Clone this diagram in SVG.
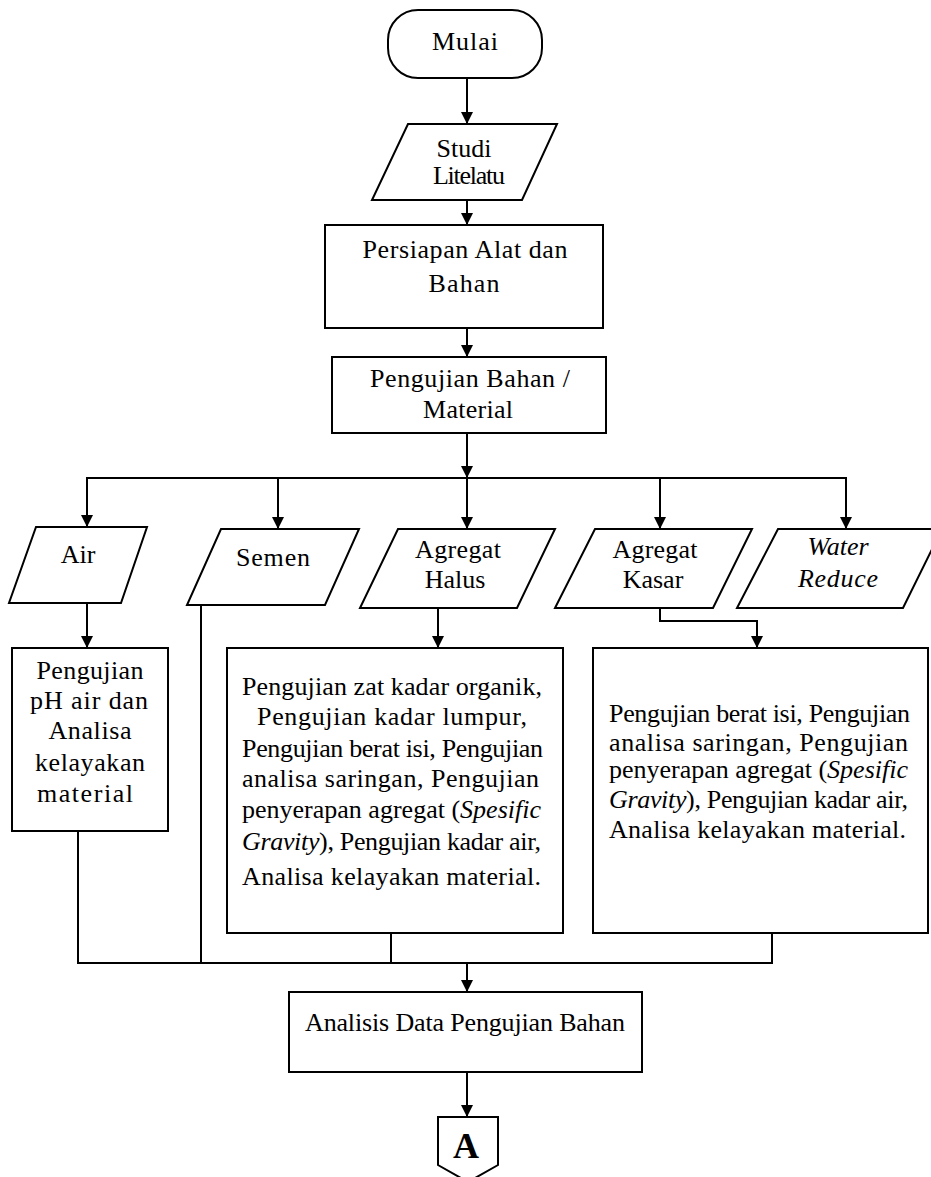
<svg xmlns="http://www.w3.org/2000/svg" width="931" height="1177" viewBox="0 0 931 1177">
<style>
.s{fill:#fff;stroke:#000;stroke-width:2}
.c{fill:none;stroke:#000;stroke-width:2}
text{font-family:"Liberation Serif","Times New Roman",serif;font-size:26px;fill:#000}
.m{text-anchor:middle}
.i{font-style:italic}
</style>
<defs>
<marker id="ah" markerUnits="userSpaceOnUse" markerWidth="12" markerHeight="12" refX="11" refY="5.5" orient="auto" viewBox="0 0 11 11">
<path d="M0,0 L11,5.5 L0,11 z" fill="#000"/>
</marker>
</defs>
<rect width="931" height="1177" fill="#fff"/>

<g id="connectors">
<line class="c" x1="467" y1="78" x2="467" y2="124" marker-end="url(#ah)"/>
<line class="c" x1="467" y1="200" x2="467" y2="225" marker-end="url(#ah)"/>
<line class="c" x1="467" y1="328" x2="467" y2="357" marker-end="url(#ah)"/>
<line class="c" x1="467" y1="433" x2="467" y2="478" marker-end="url(#ah)"/>
<line class="c" x1="86" y1="478" x2="847" y2="478"/>
<line class="c" x1="87" y1="478" x2="87" y2="527" marker-end="url(#ah)"/>
<line class="c" x1="278" y1="478" x2="278" y2="529" marker-end="url(#ah)"/>
<line class="c" x1="467" y1="478" x2="467" y2="529" marker-end="url(#ah)"/>
<line class="c" x1="660" y1="478" x2="660" y2="529" marker-end="url(#ah)"/>
<line class="c" x1="846" y1="478" x2="846" y2="529" marker-end="url(#ah)"/>
<line class="c" x1="87" y1="603" x2="87" y2="648" marker-end="url(#ah)"/>
<line class="c" x1="438" y1="608" x2="438" y2="648" marker-end="url(#ah)"/>
<polyline class="c" points="660,608 660,621 757,621 757,648" marker-end="url(#ah)"/>
<line class="c" x1="78" y1="831" x2="78" y2="963"/>
<line class="c" x1="201" y1="606" x2="201" y2="963"/>
<line class="c" x1="391" y1="933" x2="391" y2="963"/>
<polyline class="c" points="772,933 772,963 77,963"/>
<line class="c" x1="467" y1="963" x2="467" y2="992" marker-end="url(#ah)"/>
<line class="c" x1="467" y1="1072" x2="467" y2="1117" marker-end="url(#ah)"/>
</g>

<g id="mulai">
<rect class="s" x="388" y="10" width="154" height="68" rx="30"/>
<text class="m" x="465" y="50" textLength="66">Mulai</text>
</g>

<g id="studi">
<polygon class="s" points="408,124 557,124 522,200 372,200"/>
<text class="m" x="464" y="157">Studi</text>
<text class="m" x="469" y="184" textLength="72">Litelatu</text>
</g>

<g id="persiapan">
<rect class="s" x="325" y="225" width="278" height="103"/>
<text class="m" x="465" y="258" textLength="205">Persiapan Alat dan</text>
<text class="m" x="464" y="292" textLength="71">Bahan</text>
</g>

<g id="pengujian">
<rect class="s" x="332" y="357" width="274" height="76"/>
<text class="m" x="470" y="387" textLength="200">Pengujian Bahan /</text>
<text class="m" x="468" y="418" textLength="90">Material</text>
</g>

<g id="air">
<polygon class="s" points="36,527 147,527 121,603 9,603"/>
<text class="m" x="78" y="563">Air</text>
</g>

<g id="semen">
<polygon class="s" points="221,529 359,529 325,605 187,605"/>
<text class="m" x="273" y="566" textLength="74">Semen</text>
</g>

<g id="agregat-halus">
<polygon class="s" points="398,529 555,529 517,608 360,608"/>
<text class="m" x="458" y="558" textLength="86">Agregat</text>
<text class="m" x="455" y="588">Halus</text>
</g>

<g id="agregat-kasar">
<polygon class="s" points="595,529 752,529 713,608 555,608"/>
<text class="m" x="655" y="558" textLength="85">Agregat</text>
<text class="m" x="653" y="588">Kasar</text>
</g>

<g id="water-reduce">
<polygon class="s" points="778,529 942,529 903,608 737,608"/>
<text class="m i" x="838" y="555">Water</text>
<text class="m i" x="838" y="587" textLength="80">Reduce</text>
</g>

<g id="uji-air">
<rect class="s" x="12" y="648" width="156" height="183"/>
<text class="m" x="90" y="679" textLength="107">Pengujian</text>
<text class="m" x="89" y="709" textLength="118">pH air dan</text>
<text class="m" x="90" y="739" textLength="83">Analisa</text>
<text class="m" x="90" y="771" textLength="110">kelayakan</text>
<text class="m" x="85" y="802" textLength="96">material</text>
</g>

<g id="uji-halus">
<rect class="s" x="227" y="648" width="336" height="285"/>
<text x="242" y="695" textLength="300">Pengujian zat kadar organik,</text>
<text x="257" y="725" textLength="270">Pengujian kadar lumpur,</text>
<text x="242" y="757" textLength="301">Pengujian berat isi, Pengujian</text>
<text x="242" y="787" textLength="297">analisa saringan, Pengujian</text>
<text x="242" y="818" textLength="299">penyerapan agregat (<tspan class="i">Spesific</tspan></text>
<text x="242" y="850" textLength="299"><tspan class="i">Gravity</tspan>), Pengujian kadar air,</text>
<text x="242" y="885" textLength="299">Analisa kelayakan material.</text>
</g>

<g id="uji-kasar">
<rect class="s" x="593" y="648" width="335" height="285"/>
<text x="609" y="722" textLength="301">Pengujian berat isi, Pengujian</text>
<text x="609" y="751" textLength="299">analisa saringan, Pengujian</text>
<text x="609" y="778" textLength="299">penyerapan agregat (<tspan class="i">Spesific</tspan></text>
<text x="609" y="808" textLength="299"><tspan class="i">Gravity</tspan>), Pengujian kadar air,</text>
<text x="609" y="838" textLength="297">Analisa kelayakan material.</text>
</g>

<g id="analisis">
<rect class="s" x="289" y="992" width="353" height="80"/>
<text class="m" x="465" y="1031" textLength="320">Analisis Data Pengujian Bahan</text>
</g>

<g id="konektor-a">
<polygon class="s" points="438,1117 498,1117 498,1165 468,1182 438,1165"/>
<text class="m" x="466" y="1158" style="font-size:36px;font-weight:bold">A</text>
</g>
</svg>
